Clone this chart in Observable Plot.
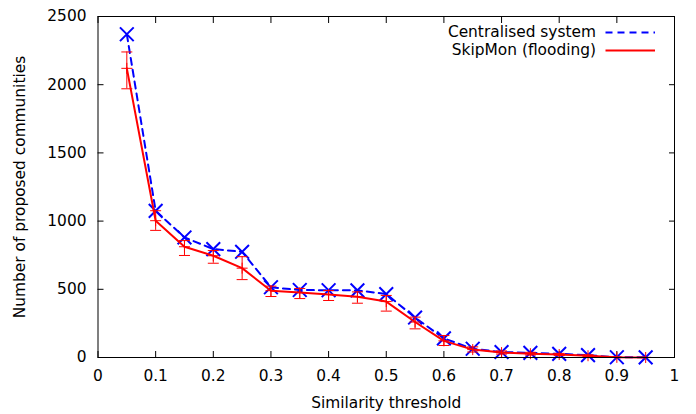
<!DOCTYPE html>
<html><head><meta charset="utf-8">
<script src="https://cdn.jsdelivr.net/npm/d3@7"></script>
<script src="https://cdn.jsdelivr.net/npm/@observablehq/plot@0.6"></script>
<style>
body{margin:0;background:#fff;}
</style></head><body><div id="chart"></div>
<script>
const thresholds = [0.05,0.1,0.15,0.2,0.25,0.3,0.35,0.4,0.45,0.5,0.55,0.6,0.65,0.7,0.75,0.8,0.85,0.9,0.95];
const centralised = [2370,1075,880,795,775,515,495,493,492,465,293,140,64,40,34,27,17,2,1];
const skipmon = [2120,1003,812,746,655,490,476,462,445,410,260,122,58,36,28,22,13,1,0];
const skipmonLow = [1970,932,748,691,571,447,432,418,398,340,210,88,40,25,18,14,8,0,0];
const skipmonHigh = [2240,1076,857,784,739,523,506,491,481,455,296,161,78,48,38,30,20,3,1];
const xTicks = [0,0.1,0.2,0.3,0.4,0.5,0.6,0.7,0.8,0.9,1];
const yTicks = [0,500,1000,1500,2000,2500];
const seriesNames = ["Centralised system","SkipMon (flooding)"];
const seriesColors = ["#0000ff","#ff0000"];
const seriesDash = ["7,5", null];

const central = thresholds.map((x,i)=>({x, y: centralised[i]}));
const skip = thresholds.map((x,i)=>({x, y: skipmon[i], lo: skipmonLow[i], hi: skipmonHigh[i]}));

const capSymbol = {draw(ctx, size){ const w = Math.sqrt(size)/2; ctx.moveTo(-w,0); ctx.lineTo(w,0);} };
const plusSymbol = {draw(ctx, size){ const w = Math.sqrt(size)/2; ctx.moveTo(-w,0); ctx.lineTo(w,0); ctx.moveTo(0,-w); ctx.lineTo(0,w);} };

function legendMark(index, scales, values, dimensions) {
  const {width, marginRight, marginTop} = dimensions;
  const g = d3.create("svg:g");
  const right = width - marginRight;
  seriesNames.forEach((name, i) => {
    const yy = marginTop + 16.5 + i * 18;
    g.append("text")
      .attr("x", right - 78).attr("y", yy).attr("dy", "0.32em")
      .attr("text-anchor", "end").attr("fill", "black")
      .text(name);
    g.append("line")
      .attr("x1", right - 68.5).attr("x2", right - 19)
      .attr("y1", yy).attr("y2", yy)
      .attr("stroke", seriesColors[i]).attr("stroke-width", 2)
      .attr("stroke-dasharray", seriesDash[i]);
  });
  return g.node();
}

const chart = Plot.plot({
  width: 696,
  height: 414,
  marginLeft: 97.5,
  marginRight: 22,
  marginTop: 16,
  marginBottom: 57,
  style: {fontFamily: "DejaVu Sans", fontSize: "15.4px", background: "white", color: "black"},
  x: {domain: [0, 1]},
  y: {domain: [0, 2500]},
  marks: [
    Plot.axisX(xTicks, {tickSize: 0, tickPadding: 13, tickFormat: d => String(d), label: "Similarity threshold", labelAnchor: "center", labelOffset: 50, labelArrow: "none"}),
    Plot.axisX(xTicks, {tickSize: -6, tickFormat: () => "", label: null}),
    Plot.axisX(xTicks, {anchor: "top", tickSize: -6, tickFormat: () => "", label: null}),
    Plot.axisY(yTicks, {tickSize: 0, tickPadding: 11.5, tickFormat: d => String(d), label: "Number of proposed communities", labelAnchor: "center", labelOffset: 84, labelArrow: "none"}),
    Plot.axisY(yTicks, {tickSize: -6, tickFormat: () => "", label: null}),
    Plot.axisY(yTicks, {anchor: "right", tickSize: -6, tickFormat: () => "", label: null}),
    Plot.line(central, {x: "x", y: "y", stroke: seriesColors[0], strokeWidth: 2, strokeDasharray: seriesDash[0]}),
    Plot.dot(central, {x: "x", y: "y", symbol: "times", r: 6.3, stroke: seriesColors[0], strokeWidth: 2, fill: "none"}),
    Plot.ruleX(skip, {x: "x", y1: "lo", y2: "hi", stroke: seriesColors[1], strokeWidth: 1}),
    Plot.dot(skip, {x: "x", y: "lo", symbol: capSymbol, r: 6.2, stroke: seriesColors[1], strokeWidth: 1, fill: "none"}),
    Plot.dot(skip, {x: "x", y: "hi", symbol: capSymbol, r: 6.2, stroke: seriesColors[1], strokeWidth: 1, fill: "none"}),
    Plot.dot(skip, {x: "x", y: "y", symbol: plusSymbol, r: 6.2, stroke: seriesColors[1], strokeWidth: 1, fill: "none"}),
    Plot.line(skip, {x: "x", y: "y", stroke: seriesColors[1], strokeWidth: 2}),
    Plot.frame({stroke: "black"}),
    legendMark
  ]
});
document.getElementById("chart").appendChild(chart);
</script>
</body></html>
